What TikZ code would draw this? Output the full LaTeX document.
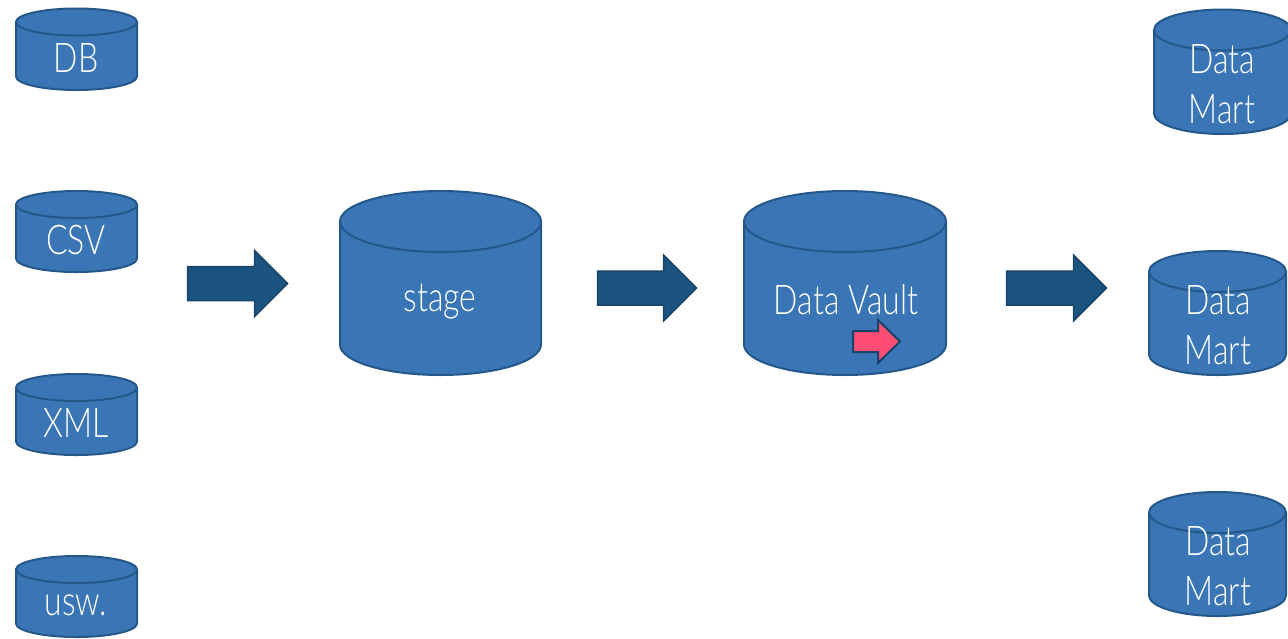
\documentclass[tikz,border=0pt]{standalone}
\usepackage{fontspec}
\setmainfont{Lato Light}[FakeStretch=0.78]
\definecolor{cylfill}{HTML}{3A75B6}
\definecolor{cylline}{HTML}{25588A}
\definecolor{arrfill}{HTML}{1C5480}
\definecolor{arrline}{HTML}{174468}
\definecolor{redfill}{HTML}{FF4D75}
\tikzset{
  cylshape/.style={draw=cylline,fill=cylfill,line width=2pt,line join=round},
  cyltop/.style={draw=cylline,line width=2pt},
  bigarrow/.style={draw=arrline,fill=arrfill,line width=1.5pt,line join=miter},
  redarrow/.style={draw=arrline,fill=redfill,line width=2pt,line join=miter},
  cyllabel/.style={text=white,inner sep=0pt,align=center,font=\fontsize{#1}{#1}\selectfont},
}
% x0 x1 ytop ybot ry
\newcommand{\drawcyl}[5]{%
  \pgfmathsetmacro{\cxa}{(#1+#2)/2}%
  \pgfmathsetmacro{\cxr}{(#2-#1)/2}%
  \pgfmathsetmacro{\cyt}{#3+#5}%
  \pgfmathsetmacro{\cyb}{#4-#5}%
  \path[cylshape] (#1,\cyt) arc[start angle=180,end angle=0,x radius=\cxr,y radius=-#5]
     -- (#2,\cyb) arc[start angle=0,end angle=-180,x radius=\cxr,y radius=-#5] -- cycle;
  \draw[cyltop] (#1,\cyt) arc[start angle=180,end angle=360,x radius=\cxr,y radius=-#5];
}
% x0 xhead x1 ycenter shafthalf headhalf style
\newcommand{\drawarr}[7]{%
  \path[#7] (#1,#4-#5) -- (#2,#4-#5) -- (#2,#4-#6) -- (#3,#4) -- (#2,#4+#6) -- (#2,#4+#5) -- (#1,#4+#5) -- cycle;
}
\begin{document}
\begin{tikzpicture}[x=1pt,y=-1pt]
\useasboundingbox (0,0) rectangle (1288,638);
\drawcyl{16}{137}{8.5}{90}{13.5}
\drawcyl{16}{137}{191}{272}{13.5}
\drawcyl{16}{137}{374}{455}{13.5}
\drawcyl{16}{137}{556}{637}{13.5}
\drawcyl{340}{541}{191}{375}{30.5}
\drawcyl{744}{946}{191}{375}{30.5}
\drawcyl{1154}{1291}{9.5}{134}{20.5}
\drawcyl{1149}{1286}{251}{375}{20.5}
\drawcyl{1149}{1286}{492}{616}{20.5}
\node[cyllabel=41] (db) at (76,58) {DB};
\node[cyllabel=41] (csv) at (76,240) {CSV};
\node[cyllabel=41] (xml) at (76,423) {XML};
\node[cyllabel=41] (usw) at (76,605) {usw.};
\node[cyllabel=41] (stage) at (440,302) {stage};
\node[cyllabel=41] (vault) at (846,300) {Data Vault};
\node[cyllabel=41] (m1a) at (1222,59) {Data};
\node[cyllabel=41] (m1b) at (1222,109) {Mart};
\node[cyllabel=41] (m2a) at (1218,300) {Data};
\node[cyllabel=41] (m2b) at (1218,350) {Mart};
\node[cyllabel=41] (m3a) at (1218,541) {Data};
\node[cyllabel=41] (m3b) at (1218,591) {Mart};
\drawarr{187.5}{254.5}{287.5}{283.5}{17}{33}{bigarrow}
\drawarr{597.5}{663.5}{696.5}{288}{17}{33}{bigarrow}
\drawarr{1006.5}{1073.5}{1106.5}{288}{17}{33}{bigarrow}
\drawarr{853}{878}{900}{341.5}{10.5}{21.5}{redarrow}
\end{tikzpicture}
\end{document}
